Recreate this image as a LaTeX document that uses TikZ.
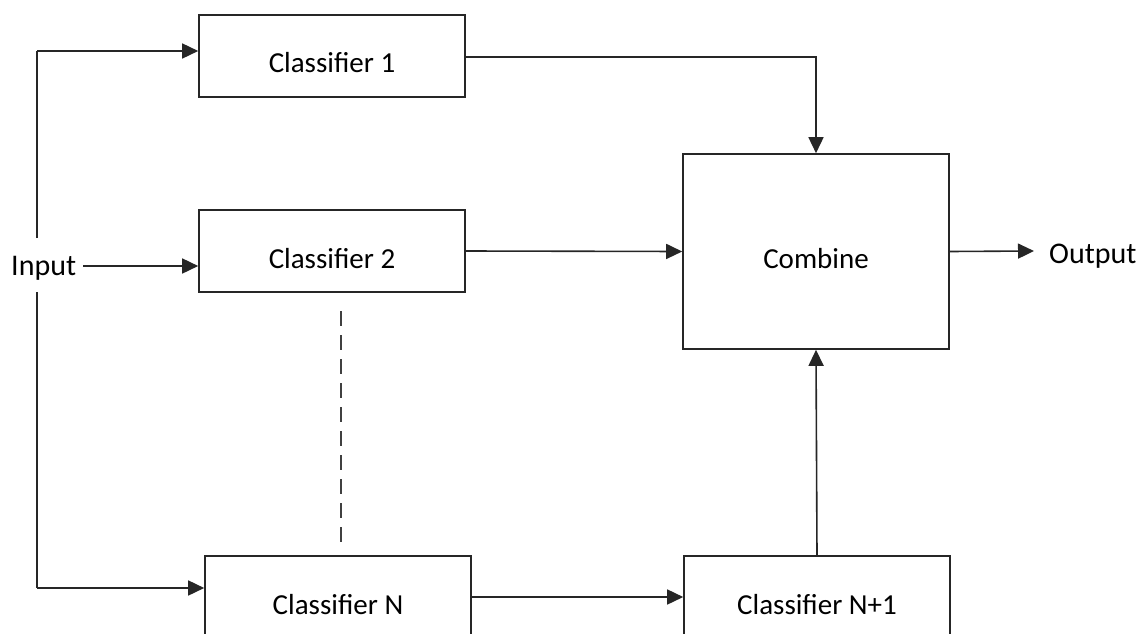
\documentclass[tikz,border=0pt]{standalone}
\usepackage{fontspec}
\setmainfont{Carlito}
\usetikzlibrary{arrows.meta}
\begin{document}
\begin{tikzpicture}[x=1pt,y=-1pt,
  box/.style={draw=black!85, line width=1.6pt, minimum width=266pt, minimum height=82pt, inner sep=0pt, text height=34pt, text depth=0pt, font=\fontsize{29}{34}\selectfont},
  lbl/.style={inner sep=0pt, font=\fontsize{30}{34}\selectfont},
  arr/.style={-{Triangle[length=16pt,width=15pt]}, line width=1.6pt, draw=black!85},
  ln/.style={line width=1.6pt, draw=black!85},
  dsh/.style={line width=1.6pt, draw=black!75, dash pattern=on 15pt off 9pt}]
\useasboundingbox (0,0) rectangle (1146,634);
\clip (0,0) rectangle (1146,634);
\node[box] (c1) at (332,56) {Classifier 1};
\node[box] (c2) at (332,251) {Classifier 2};
\node[box] (cN) at (338,597) {Classifier N};
\node[box] (cN1) at (817,597) {Classifier N+1};
\node[box, minimum height=195pt] (cmb) at (816,251.5) {Combine};
\node[lbl, anchor=base west] (in) at (11,275) {Input};
\node[lbl, anchor=base west] (out) at (1049,263) {Output};
\coordinate (iu) at (37,238);
\coordinate (il) at (37,292);
\coordinate (t1) at (37,51);
\coordinate (tN) at (37,588);
\coordinate (ie) at (83,266);
\coordinate (d1) at (341,311);
\coordinate (d2) at (341,543);
\coordinate (oe) at (1034,251);
% input connections
\draw[ln] (iu) -- (t1);
\draw[arr] (t1) -- (t1 -| c1.west);
\draw[arr] (ie) -- (ie -| c2.west);
\draw[ln] (il) -- (tN);
\draw[arr] (tN) -- (tN -| cN.west);
% dashed
\draw[dsh] (d1) -- (d2);
% to combine
\draw[arr] (c1.east |- 0,57) -| (cmb.north);
\draw[arr] (c2.east) -- (cmb.west);
\draw[arr] (cN.east) -- (cN1.west);
\draw[arr] (cN1.north) -- (cmb.south);
\draw[arr] (cmb.east) -- (oe);
\end{tikzpicture}
\end{document}
